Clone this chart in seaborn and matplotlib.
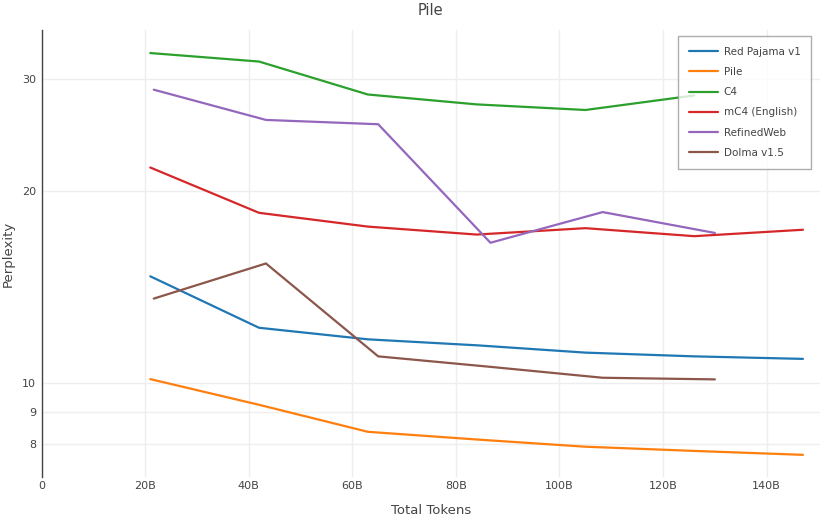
import pandas as pd
import matplotlib
matplotlib.use("Agg")
import matplotlib.pyplot as plt
import matplotlib.ticker as mticker
import seaborn as sns

# token counts (billions)
tokens_a = [21, 42, 63, 84, 105, 126, 147]
tokens_b = [21.67, 43.33, 65, 86.67, 108.33, 130]

# perplexity on Pile
red_pajama = [14.7, 12.2, 11.7, 11.45, 11.15, 11.0, 10.9]
pile = [10.13, 9.23, 8.37, 8.14, 7.93, 7.81, 7.70]
c4 = [33.0, 32.0, 28.4, 27.4, 26.85, 28.3]
mc4 = [21.8, 18.5, 17.6, 17.1, 17.5, 17.0, 17.4]
refinedweb = [28.9, 25.9, 25.5, 16.6, 18.55, 17.2]
dolma = [13.56, 15.4, 11.0, 10.59, 10.18, 10.12]

series = [
    ("Red Pajama v1", tokens_a, red_pajama),
    ("Pile", tokens_a, pile),
    ("C4", tokens_a[:6], c4),
    ("mC4 (English)", tokens_a, mc4),
    ("RefinedWeb", tokens_b, refinedweb),
    ("Dolma v1.5", tokens_b, dolma),
]
names = [s[0] for s in series]

frames = []
for name, xs, ys in series:
    frames.append(pd.DataFrame({"tokens": xs, "ppl": ys, "dataset": name}))
df = pd.concat(frames, ignore_index=True)

sns.set_style("white")
plt.rcParams['font.family'] = ['DejaVu Sans']

fig = plt.figure(figsize=(8.3, 5.19), dpi=100)
ax = fig.add_axes([0.050, 0.081, 0.938, 0.861])

colors = ["#1f77b4", "#ff7f0e", "#2ca02c", "#d62728", "#9467bd", "#8c564b"]
sns.lineplot(data=df, x="tokens", y="ppl", hue="dataset", hue_order=names,
             palette=colors, sort=False, linewidth=1.6, ax=ax)

ax.set_yscale("log")
ax.set_xlim(0, 150.3)
ax.set_ylim(7.107, 35.86)

ax.set_xticks([0, 20, 40, 60, 80, 100, 120, 140])
ax.set_xticklabels(["0", "20B", "40B", "60B", "80B", "100B", "120B", "140B"])
ax.yaxis.set_major_locator(mticker.FixedLocator([8, 9, 10, 20, 30]))
ax.yaxis.set_minor_locator(mticker.NullLocator())
ax.yaxis.set_major_formatter(mticker.FixedFormatter(["8", "9", "10", "20", "30"]))

ax.grid(True, color="#eeeeee", linewidth=1)
ax.set_axisbelow(True)
ax.tick_params(axis="x", labelsize=8, colors="#444444", length=0, pad=3)
ax.tick_params(axis="y", labelsize=8, colors="#444444", length=0, pad=4)

for side in ["top", "right", "bottom"]:
    ax.spines[side].set_visible(False)
ax.spines["left"].set_color("#444444")
ax.spines["left"].set_linewidth(1)

ax.set_xlabel("Total Tokens", fontsize=9.5, color="#444444")
ax.set_ylabel("Perplexity", fontsize=9.5, color="#444444")
ax.xaxis.label.set_va("center")
ax.yaxis.label.set_va("center")
ax.xaxis.set_label_coords(0.5, -0.074)
ax.yaxis.set_label_coords(-0.043, 0.5)
ax.set_title("Pile", fontsize=10.5, color="#444444", pad=11)

leg = ax.legend(loc="upper right", bbox_to_anchor=(0.989, 0.987), borderaxespad=0,
                fontsize=7.5, frameon=True, fancybox=False, handlelength=2.8,
                borderpad=1.05, labelspacing=0.98, handletextpad=0.5)
leg.get_frame().set_edgecolor("#999999")
leg.get_frame().set_linewidth(1)
for t in leg.get_texts():
    t.set_color("#444444")

fig.savefig("out.png", dpi=100)
